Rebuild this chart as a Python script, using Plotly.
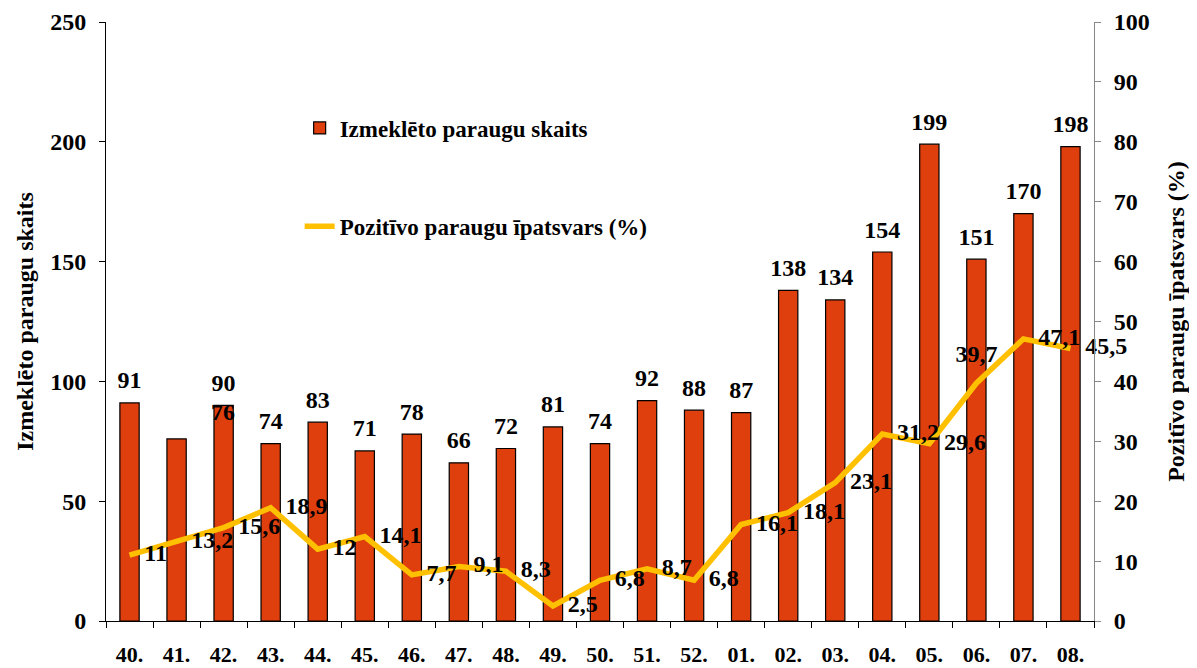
import plotly.graph_objects as go

weeks = ["40.", "41.", "42.", "43.", "44.", "45.", "46.", "47.", "48.", "49.", "50.",
         "51.", "52.", "01.", "02.", "03.", "04.", "05.", "06.", "07.", "08."]
samples = [91, 76, 90, 74, 83, 71, 78, 66, 72, 81, 74, 92, 88, 87, 138, 134, 154, 199, 151, 170, 198]
positive_pct = [11, 13.2, 15.6, 18.9, 12, 14.1, 7.7, 9.1, 8.3, 2.5, 6.8, 8.7, 6.8,
                16.1, 18.1, 23.1, 31.2, 29.6, 39.7, 47.1, 45.5]

FONT = "Liberation Serif"
BAR_COLOR = "#de3f0d"
LINE_COLOR = "#ffc000"
LABEL_FONT = dict(family=FONT, size=24, color="black", weight="bold")

def fmt(v):
    return (f"{v:g}").replace(".", ",")

# label of week 41 sits one column to the right in the original
moved = weeks.index("41.")
bar_text = [str(v) for v in samples]
bar_text[moved] = ""

line_pos = ["middle right"] * len(weeks)
line_pos[weeks.index("06.")] = "top center"

fig = go.Figure()

fig.add_trace(go.Bar(
    x=weeks, y=samples,
    name="Izmeklēto paraugu skaits",
    marker=dict(color=BAR_COLOR, line=dict(color="black", width=1.2)),
    legend="legend",
))

# bar value labels (invisible markers keep a gap above the bar)
fig.add_trace(go.Scatter(
    x=weeks, y=samples, mode="markers+text",
    marker=dict(size=12, color="rgba(0,0,0,0)"),
    text=bar_text, textposition="top center", textfont=LABEL_FONT,
    cliponaxis=False, showlegend=False, hoverinfo="skip",
))

fig.add_trace(go.Scatter(
    x=weeks, y=positive_pct, yaxis="y2",
    name="Pozitīvo paraugu īpatsvars (%)",
    mode="lines+markers+text",
    line=dict(color=LINE_COLOR, width=5.5),
    marker=dict(size=22, color="rgba(0,0,0,0)", line=dict(width=0)),
    text=[fmt(v) for v in positive_pct], textposition=line_pos,
    textfont=LABEL_FONT,
    cliponaxis=False,
    legend="legend2",
))

fig.add_annotation(
    x=moved, y=samples[moved], xshift=46, yshift=12, yanchor="bottom",
    text=str(samples[moved]), showarrow=False, font=LABEL_FONT,
)

# the page body adds an 8px offset, so the figure is 8px smaller
fig.update_layout(
    width=1189, height=660,
    plot_bgcolor="white", paper_bgcolor="white",
    margin=dict(l=98, r=103, t=14, b=47, autoexpand=False),
    font=dict(family=FONT, size=22, color="black", weight="bold"),
    bargap=0.59,
    showlegend=True,
    legend=dict(x=0.196, y=0.859, xanchor="left", yanchor="top", itemwidth=30,
                font=dict(family=FONT, size=23, weight="bold"), bgcolor="rgba(0,0,0,0)"),
    legend2=dict(x=0.196, y=0.695, xanchor="left", yanchor="top", itemwidth=30,
                 font=dict(family=FONT, size=23, weight="bold"), bgcolor="rgba(0,0,0,0)"),
    xaxis=dict(
        type="category", range=[-0.5, len(weeks) - 0.5],
        tickmode="array", tickvals=weeks, ticktext=weeks,
        showline=True, linecolor="black", linewidth=1,
        ticks="outside", tickson="boundaries", ticklen=6, tickcolor="black",
        tickfont=dict(family=FONT, size=22, weight="bold"),
        tickangle=0,
        ticklabelstandoff=14,
    ),
    yaxis=dict(
        range=[0, 250], dtick=50,
        showline=True, linecolor="black", linewidth=1,
        ticks="outside", ticklen=6, tickcolor="black",
        showgrid=False, zeroline=False,
        tickfont=dict(family=FONT, size=24, weight="bold"),
        ticklabelstandoff=8,
        title=dict(text="Izmeklēto paraugu skaits",
                   font=dict(family=FONT, size=24, weight="bold"), standoff=9),
    ),
    yaxis2=dict(
        range=[0, 100], dtick=10, overlaying="y", side="right",
        showline=True, linecolor="#888888", linewidth=1,
        ticks="outside", ticklen=6, tickcolor="#888888",
        showgrid=False, zeroline=False,
        tickfont=dict(family=FONT, size=24, weight="bold"),
        ticklabelstandoff=8,
        title=dict(text="Pozitīvo paraugu īpatsvars (%)",
                   font=dict(family=FONT, size=24, weight="bold"), standoff=18),
    ),
)

fig.write_html("out.html")
